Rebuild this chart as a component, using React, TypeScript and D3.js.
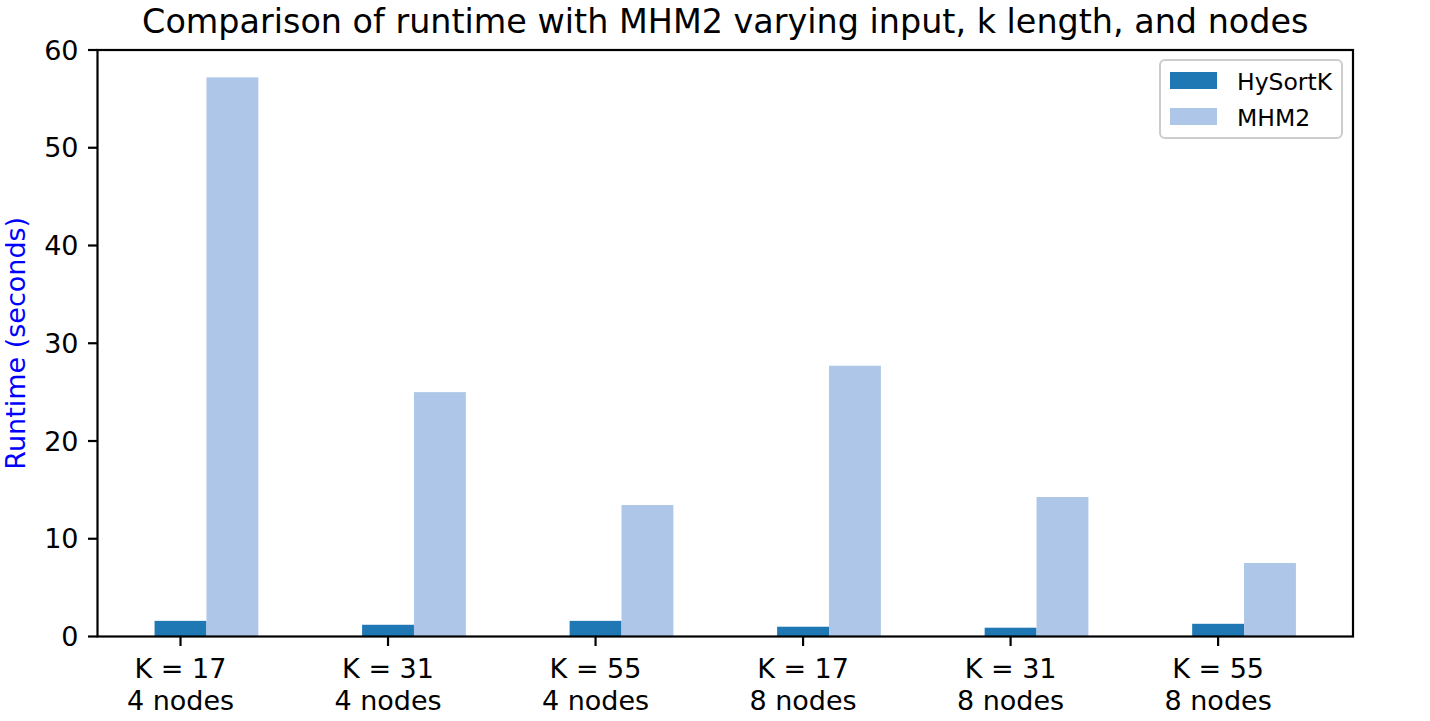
import React from "react";
import * as d3 from "d3";

const categories = ["K = 17\n4 nodes", "K = 31\n4 nodes", "K = 55\n4 nodes", "K = 17\n8 nodes", "K = 31\n8 nodes", "K = 55\n8 nodes"];
const hysortk = [1.6, 1.2, 1.6, 1.0, 0.9, 1.3];
const mhm2 = [57.2, 25.0, 13.45, 27.7, 14.27, 7.52];
const yTicks = [0, 10, 20, 30, 40, 50, 60];
const seriesNames = ["HySortK", "MHM2"];
const seriesColors = ["#1f77b4", "#aec7e8"];

const W = 1430, H = 721;
const left = 97.5, right = 1353, top = 50, bottom = 636.5;
const FONT = "DejaVu Sans, sans-serif";

export default function App() {
  const x = d3.scaleLinear().domain([-0.4, 5.65]).range([left, right]);
  const y = d3.scaleLinear().domain([0, 60]).range([bottom, top]);
  const bw = 0.25;
  const series = [hysortk, mhm2];
  return (
    <svg width={W} height={H} style={{ position: "absolute", left: 0, top: 0, background: "#fff" }} fontFamily={FONT}>
      <rect x={0} y={0} width={W} height={H} fill="#fff" />
      {series.map((vals, si) =>
        vals.map((v, i) => {
          const x0 = x(i + si * bw - bw / 2);
          const x1 = x(i + si * bw + bw / 2);
          return <rect key={si + "-" + i} x={x0} y={y(v)} width={x1 - x0} height={y(0) - y(v)} fill={seriesColors[si]} />;
        })
      )}
      {/* spines */}
      <rect x={left} y={top} width={right - left} height={bottom - top} fill="none" stroke="#000" strokeWidth={2.2} />
      {/* y ticks */}
      {yTicks.map((t) => (
        <g key={t}>
          <line x1={left - 9.5} x2={left} y1={y(t)} y2={y(t)} stroke="#000" strokeWidth={2.2} />
          <text x={left - 19} y={y(t)} dy="0.36em" textAnchor="end" fontSize={27}>{t}</text>
        </g>
      ))}
      {/* x ticks */}
      {categories.map((c, i) => (
        <g key={c}>
          <line x1={x(i)} x2={x(i)} y1={bottom} y2={bottom + 9.5} stroke="#000" strokeWidth={2.2} />
          {c.split("\n").map((line, j) => (
            <text key={j} x={x(i)} y={678 + j * 32} textAnchor="middle" fontSize={27}>{line}</text>
          ))}
        </g>
      ))}
      <text transform={`translate(25,${(top + bottom) / 2}) rotate(-90)`} textAnchor="middle" fontSize={27} fill="blue">Runtime (seconds)</text>
      <text x={(left + right) / 2} y={33} textAnchor="middle" fontSize={33.4}>Comparison of runtime with MHM2 varying input, k length, and nodes</text>
      {/* legend */}
      <rect x={1160} y={60} width={182} height={78} rx={5} fill="#fff" fillOpacity={0.8} stroke="#cccccc" strokeWidth={2} />
      {seriesNames.map((n, i) => (
        <g key={n}>
          <rect x={1170} y={72 + i * 36} width={47} height={17} fill={seriesColors[i]} />
          <text x={1237} y={90 + i * 36} fontSize={23.5}>{n}</text>
        </g>
      ))}
    </svg>
  );
}
